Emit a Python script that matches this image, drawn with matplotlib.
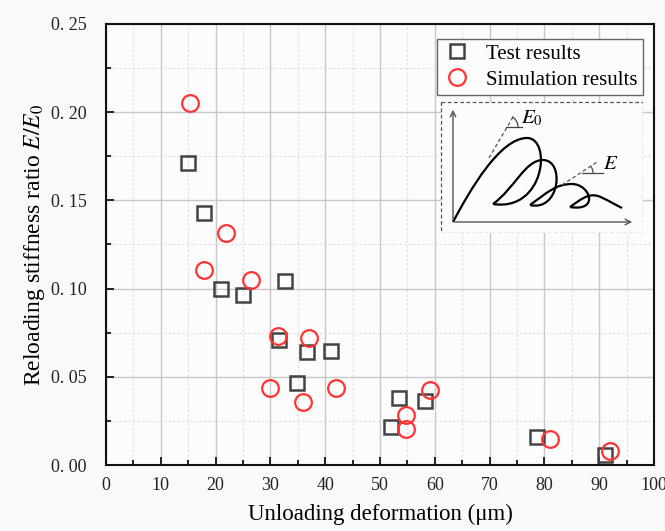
import matplotlib.pyplot as plt
import numpy as np
from matplotlib.path import Path
from matplotlib.patches import PathPatch, Arc, Rectangle
from matplotlib.ticker import MultipleLocator, FuncFormatter

plt.rcParams['font.family'] = ['Liberation Serif', 'DejaVu Serif']
plt.rcParams['mathtext.fontset'] = 'stix'

# test results (squares)
test_x = [15.0, 17.8, 21.0, 25.0, 32.7, 31.6, 34.9, 36.6, 41.1, 52.0, 53.4, 58.3, 78.7, 91.0]
test_y = [0.1714, 0.1428, 0.0996, 0.0962, 0.1042, 0.0707, 0.0464, 0.0639, 0.0644,
          0.0218, 0.0382, 0.0361, 0.0161, 0.0057]
# simulation results (circles)
sim_x = [15.4, 17.9, 21.9, 26.5, 31.4, 37.1, 29.9, 35.9, 41.9, 54.8, 54.8, 59.2, 81.0, 92.0]
sim_y = [0.2053, 0.1106, 0.1318, 0.1050, 0.0729, 0.0719, 0.0439, 0.0356, 0.0435,
         0.0286, 0.0205, 0.0428, 0.0148, 0.0081]

# schematic in the inset (pixel-like coordinates of the sketch)
env_pts = [(453, 222), (470, 190), (500, 138), (527, 138),
           (552, 138), (545, 212), (493, 204)]
loop2_pts = [(493, 204), (515, 188), (525, 160), (543, 160),
             (565, 160), (560, 212), (530, 205)]
loop3_pts = [(530, 205), (548, 192), (556, 184), (572, 184),
             (590, 184), (600, 212), (570, 207)]
tail_pts = [(570, 207), (580, 200), (588, 193), (598, 196),
            (606, 199), (612, 203), (622, 208)]

fig = plt.figure(figsize=(6.65, 5.31), dpi=100)
fig.patch.set_facecolor('#f9f9f9')
ax = fig.add_axes([106 / 665, 66 / 531, 548 / 665, 441 / 531])
ax.set_facecolor('#fcfcfc')

ax.plot(test_x, test_y, 's', ms=10.5, mfc='none', mec='#444444', mew=1.8,
        label='Test results', zorder=3)
ax.plot(sim_x, sim_y, 'o', ms=12, mfc='none', mec='#ff3333', mew=1.6,
        label='Simulation results', zorder=4)

ax.set_xlim(0, 100)
ax.set_ylim(0, 0.25)
ax.xaxis.set_major_locator(MultipleLocator(10))
ax.xaxis.set_minor_locator(MultipleLocator(5))
ax.yaxis.set_major_locator(MultipleLocator(0.05))
ax.yaxis.set_minor_locator(MultipleLocator(0.025))
ax.yaxis.set_major_formatter(FuncFormatter(lambda v, p: ('%.2f' % v).replace('.', '. ')))
ax.grid(which='major', color='#c8c8c8', lw=1.0)
ax.grid(which='minor', color='#dddddd', lw=0.8, ls=(0, (2, 2)))
ax.set_axisbelow(True)
ax.tick_params(which='major', direction='in', length=6, width=1.4, labelsize=13,
               colors='#222222')
ax.tick_params(axis='x', which='major', pad=9)
ax.tick_params(axis='y', which='major', pad=14)
ax.tick_params(which='minor', direction='in', length=3.5, width=1.2)
for s in ax.spines.values():
    s.set_linewidth(1.5)
    s.set_color('#111111')

ax.set_xlabel('Unloading deformation (\u03bcm)', fontsize=16.5, labelpad=7)
ax.set_ylabel('Reloading stiffness ratio $E/E_0$', fontsize=17)
ax.yaxis.set_label_coords(-0.108, 0.5)

leg = ax.legend(loc='upper right', bbox_to_anchor=(0.980, 0.966), borderaxespad=0,
                fontsize=15, frameon=True, fancybox=False, edgecolor='#666666',
                handletextpad=0.7, borderpad=0.25, labelspacing=0.3,
                handlelength=1.4)
leg.get_frame().set_linewidth(1.0)
leg.get_frame().set_facecolor('#fcfcfc')
leg.get_frame().set_alpha(1)

# inset schematic
ins = fig.add_axes([440 / 665, (531 - 233) / 531, 203 / 665, 132 / 531])
ins.set_xlim(440, 643)
ins.set_ylim(233, 101)
ins.axis('off')
ins.add_patch(Rectangle((440.5, 101.5), 202, 131, fill=True, fc='#fcfcfc',
                        ec='#555555', lw=0.9, ls=(0, (3, 2))))
arrow = dict(arrowstyle='->', color='#555555', lw=1.0)
ins.annotate('', xy=(453, 107), xytext=(453, 223), arrowprops=arrow)
ins.annotate('', xy=(635, 222), xytext=(452, 222), arrowprops=arrow)

codes = [Path.MOVETO] + [Path.CURVE4] * 6
for pts in [env_pts, loop2_pts, loop3_pts, tail_pts]:
    ins.add_patch(PathPatch(Path(pts, codes), fc='none', ec='black', lw=1.6))

ins.plot([489, 513], [158, 117], ls=(0, (3, 2)), color='#555555', lw=0.9)
ins.plot([506, 522], [127, 127], color='#444444', lw=0.9)
ins.add_patch(Arc((506, 127), 24, 24, theta1=-60, theta2=0, color='#444444', lw=0.9))
ins.text(521, 128, '$E_0$', fontsize=15, ha='left', va='bottom')
ins.plot([562, 597], [185, 162], ls=(0, (3, 2)), color='#555555', lw=0.9)
ins.plot([582, 603], [173, 173], color='#444444', lw=0.9)
ins.add_patch(Arc((582, 173), 22, 22, theta1=-40, theta2=0, color='#444444', lw=0.9))
ins.text(603, 174, '$E$', fontsize=15, ha='left', va='bottom')

fig.savefig('out.png', dpi=100, facecolor=fig.get_facecolor())
